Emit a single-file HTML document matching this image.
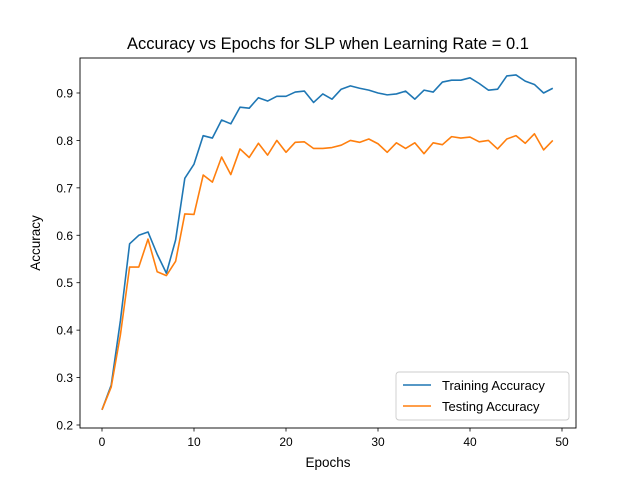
<!DOCTYPE html>
<html><head><meta charset="utf-8"><style>
body{margin:0;background:#fff}
svg{display:block;font-family:"Liberation Sans","DejaVu Sans",sans-serif}
</style></head><body>
<svg id="chart" width="640" height="480" viewBox="0 0 640 480">
<rect width="640" height="480" fill="#fff"/>
<text x="328" y="49" font-size="16.5" text-anchor="middle" fill="#000">Accuracy vs Epochs for SLP when Learning Rate = 0.1</text>
<g id="grid"></g>
<g id="series"></g>
<rect x="80" y="58" width="496" height="370" fill="none" stroke="#000" stroke-width="0.9"/>
<text x="328" y="467" font-size="13.5" text-anchor="middle">Epochs</text>
<text transform="translate(40,243) rotate(-90)" font-size="13.5" text-anchor="middle">Accuracy</text>
<g>
<rect x="396" y="372" width="173" height="48" rx="3" fill="#fff" stroke="#ccc" stroke-width="0.9"/>
<line x1="403" y1="385" x2="431" y2="385" stroke="#1f77b4" stroke-width="1.6"/>
<text x="442" y="390" font-size="13">Training Accuracy</text>
<line x1="403" y1="406" x2="431" y2="406" stroke="#ff7f0e" stroke-width="1.6"/>
<text x="442" y="411" font-size="13">Testing Accuracy</text>
</g>
</svg>
<script>
const epochs=[...Array(50).keys()];
const training=[0.232,0.284,0.42,0.582,0.60,0.607,0.56,0.52,0.59,0.72,0.75,0.81,0.805,0.843,0.835,0.87,0.868,0.89,0.883,0.893,0.893,0.902,0.904,0.88,0.898,0.887,0.908,0.915,0.91,0.906,0.90,0.896,0.898,0.904,0.887,0.906,0.902,0.923,0.927,0.927,0.932,0.92,0.906,0.908,0.936,0.938,0.925,0.918,0.90,0.91];
const testing=[0.232,0.28,0.39,0.533,0.533,0.592,0.523,0.515,0.545,0.645,0.644,0.727,0.712,0.765,0.728,0.782,0.764,0.794,0.769,0.80,0.775,0.796,0.797,0.783,0.783,0.785,0.79,0.80,0.796,0.803,0.793,0.775,0.795,0.783,0.795,0.772,0.795,0.791,0.808,0.805,0.807,0.797,0.80,0.782,0.803,0.81,0.794,0.814,0.78,0.80];
const xTicks=[0,10,20,30,40,50];
const yTicks=[0.2,0.3,0.4,0.5,0.6,0.7,0.8,0.9];
const NS="http://www.w3.org/2000/svg";
const X=v=>102+v*9.2;
const Y=v=>425-(v-0.2)*474.3;
const g=document.getElementById('grid'),s=document.getElementById('series');
function mk(tag,attrs,parent){const e=document.createElementNS(NS,tag);for(const k in attrs)e.setAttribute(k,attrs[k]);parent.appendChild(e);return e;}
xTicks.forEach(t=>{
  const l=mk('line',{x1:X(t),x2:X(t),y1:428,y2:431.5,stroke:'#000','stroke-width':0.8},g);
  
  
  const tx=mk('text',{x:X(t),y:446,'font-size':12,'text-anchor':'middle'},g);tx.textContent=t;
  
  
});
yTicks.forEach(t=>{
  const l=mk('line',{x1:76.5,x2:80,y1:Y(t),y2:Y(t),stroke:'#000','stroke-width':0.8},g);
  
  
  const tx=mk('text',{x:73,y:Y(t)+4.5,'font-size':12,'text-anchor':'end'},g);tx.textContent=t.toFixed(1);
  
  
});
function line(arr,color,name){
  const p=mk('polyline',{points:arr.map((v,i)=>X(epochs[i])+','+Y(v)).join(' '),fill:'none',stroke:color,'stroke-width':1.6,'stroke-linejoin':'round'},s);
  
  
}
line(training,'#1f77b4','training-accuracy-line');
line(testing,'#ff7f0e','testing-accuracy-line');
</script>
</body></html>
